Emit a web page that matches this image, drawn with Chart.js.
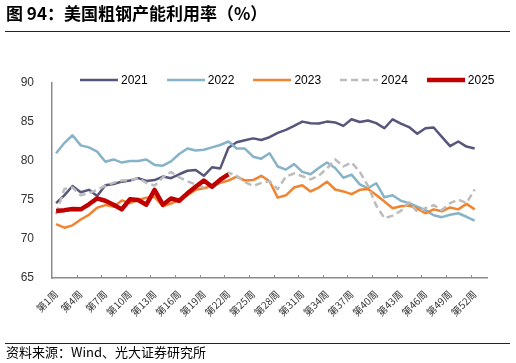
<!DOCTYPE html>
<html>
<head>
<meta charset="utf-8">
<script src="https://cdn.jsdelivr.net/npm/chart.js@4.4.1/dist/chart.umd.min.js"></script>
<style>
  body { margin: 0; background: #fff; font-family: "Noto Sans CJK SC", sans-serif; }
  #page { position: relative; width: 516px; height: 363px; overflow: hidden; }
  #chart { position: absolute; left: 0; top: 0; }
  #title { position: absolute; left: 6px; top: 4px; font-size: 17px; line-height: 17px; font-weight: bold; color: #000; white-space: nowrap; }
  .rule { position: absolute; left: 5px; width: 505px; height: 1px; background: #222; }
  #source { position: absolute; left: 6px; top: 345px; font-size: 13px; line-height: 13px; color: #000; white-space: nowrap; }
  #legend { position: absolute; left: 80px; top: 73px; display: flex; font-family: "Liberation Sans Narrow", "Liberation Sans", sans-serif; font-size: 12px; color: #000; }
  #legend .item { display: flex; align-items: center; margin-right: 19px; height: 14px; }
  #legend svg { margin-right: 3px; }
</style>
</head>
<body>
<div id="page">
  <canvas id="chart" width="516" height="363"></canvas>
  <div id="title">图 94：美国粗钢产能利用率（%）</div>
  <div class="rule" style="top:31px"></div>
  <div id="legend"></div>
  <div class="rule" style="top:343px"></div>
  <div id="source">资料来源：Wind、光大证券研究所</div>
</div>
<script>
// week labels 第1周 ... 第53周
const weeks = Array.from({ length: 53 }, (_, i) => "第" + (i + 1) + "周");

const y2021 = [74.6, 75.6, 76.8, 76.0, 76.3, 75.5, 76.9, 77.05, 77.35, 77.5, 77.8, 77.45, 77.55, 78.0, 77.8, 78.3,
  78.75, 78.85, 78.1, 79.2, 79.05, 81.7, 82.4, 82.65, 82.9, 82.7, 83.05, 83.6, 84.0, 84.5, 85.05, 84.85,
  84.8, 85.05, 84.95, 84.5, 85.35, 85.0, 85.2, 84.85, 84.2, 85.35, 84.8, 84.35, 83.5, 84.2, 84.3, 83.1,
  81.9, 82.5, 81.85, 81.6];
const y2022 = [81.0, 82.3, 83.3, 82.0, 81.75, 81.2, 79.9, 80.2, 79.8, 80.0, 80.0, 80.2, 79.5, 79.4, 79.95, 80.9,
  81.6, 81.35, 81.45, 81.75, 82.05, 82.5, 81.6, 81.6, 80.55, 80.3, 81.0, 79.3, 78.9, 79.6, 78.6, 78.3,
  79.1, 79.8, 79.1, 77.85, 78.25, 77.0, 76.5, 77.15, 75.35, 75.6, 74.9, 74.6, 74.15, 73.7, 73.05, 72.8,
  73.1, 73.3, 72.85, 72.35];
const y2023 = [71.9, 71.45, 71.75, 72.5, 73.1, 74.0, 74.35, 74.15, 74.95, 74.6, 75.0, 75.3, 75.4, 74.2, 74.55, 75.0,
  75.6, 76.3, 76.5, 76.8, 77.2, 77.5, 78.0, 77.5, 77.55, 78.1, 77.4, 75.3, 75.6, 76.6, 76.9, 76.1,
  76.6, 77.35, 76.35, 76.1, 75.75, 76.3, 76.4, 75.65, 74.8, 73.95, 74.2, 74.3, 73.9, 73.3, 73.8, 73.55,
  74.05, 73.8, 74.5, 73.8];
const y2024 = [73.2, 76.4, 76.6, 75.6, 75.9, 76.3, 76.85, 77.2, 77.5, 77.55, 77.8, 77.2, 76.85, 77.9, 78.6, 77.9,
  77.4, 77.0, 76.6, 76.9, 77.5, 78.5, 78.1, 77.3, 76.8, 77.2, 77.4, 76.4, 78.0, 78.4, 78.05, 77.65,
  78.1, 79.05, 80.2, 79.3, 79.8, 78.6, 76.8, 74.3, 72.65, 73.0, 73.6, 74.7, 73.5, 73.95, 74.35, 73.7,
  74.6, 75.05, 74.6, 76.35];
const y2025 = [73.6, 73.7, 73.85, 73.8, 74.45, 75.2, 74.9, 74.4, 73.8, 75.1, 75.0, 74.4, 76.3, 74.4, 75.2, 74.9,
  75.85, 76.7, 77.5, 76.7, 77.6, 78.3];

const axisColor = "#8c8c8c";

// small upward tick marks on the category axis, every 3 weeks
const tickMarks = {
  id: "tickMarks",
  afterDraw(chart) {
    const { ctx, chartArea } = chart;
    const x = chart.scales.x;
    ctx.save();
    ctx.strokeStyle = axisColor;
    ctx.lineWidth = 1;
    for (let i = 3; i < weeks.length; i += 3) {
      const px = Math.round((x.getPixelForValue(i - 1) + x.getPixelForValue(i)) / 2) + 0.5;
      ctx.beginPath();
      ctx.moveTo(px, chartArea.bottom);
      ctx.lineTo(px, chartArea.bottom - 3);
      ctx.stroke();
    }
    ctx.restore();
  }
};

const ctx = document.getElementById("chart").getContext("2d");
const chart = new Chart(ctx, {
  type: "line",
  data: {
    labels: weeks,
    datasets: [
      { label: "2021", data: y2021, borderColor: "#56557b", borderWidth: 2.5, order: 4 },
      { label: "2022", data: y2022, borderColor: "#86b3c8", borderWidth: 2.5, order: 3 },
      { label: "2023", data: y2023, borderColor: "#f08431", borderWidth: 2.5, order: 2 },
      { label: "2024", data: y2024, borderColor: "#bcbcbc", borderWidth: 2.5, borderDash: [7, 4], order: 1 },
      { label: "2025", data: y2025, borderColor: "#c00000", borderWidth: 4.5, order: 0 }
    ]
  },
  options: {
    responsive: false,
    animation: false,
    layout: { padding: { top: 83, right: 29, bottom: 0, left: 0 } },
    elements: {
      point: { radius: 0 },
      line: { tension: 0, borderCapStyle: "butt", borderJoinStyle: "round" }
    },
    plugins: {
      legend: { display: false },
      tooltip: { enabled: false }
    },
    scales: {
      x: {
        offset: true,
        grid: { display: false },
        border: { color: axisColor, width: 1.5 },
        ticks: {
          autoSkip: false,
          minRotation: 45,
          maxRotation: 45,
          padding: 2,
          color: "#333",
          font: { family: "'Noto Sans CJK SC', sans-serif", size: 10 },
          callback: (v, i) => (i % 3 === 0 ? weeks[i] : "")
        },
        afterFit: (scale) => { scale.height = 85; }
      },
      y: {
        min: 65,
        max: 90,
        grid: { display: false },
        border: { color: axisColor, width: 1.5 },
        ticks: {
          stepSize: 5,
          padding: 10,
          color: "#333",
          font: { family: "'Liberation Sans Narrow', 'Liberation Sans', sans-serif", size: 12 }
        },
        afterFit: (scale) => { scale.width = 52; }
      }
    }
  },
  plugins: [tickMarks]
});

// html legend built from the datasets
const legend = document.getElementById("legend");
chart.data.datasets.forEach((ds) => {
  const item = document.createElement("div");
  item.className = "item";
  const dash = ds.borderDash ? ds.borderDash.join(",") : "none";
  item.innerHTML =
    '<svg width="38" height="8"><line x1="0" y1="4" x2="38" y2="4" stroke="' + ds.borderColor +
    '" stroke-width="' + ds.borderWidth + '" stroke-dasharray="' + dash + '"/></svg>' +
    "<span>" + ds.label + "</span>";
  legend.appendChild(item);
});
</script>
</body>
</html>
